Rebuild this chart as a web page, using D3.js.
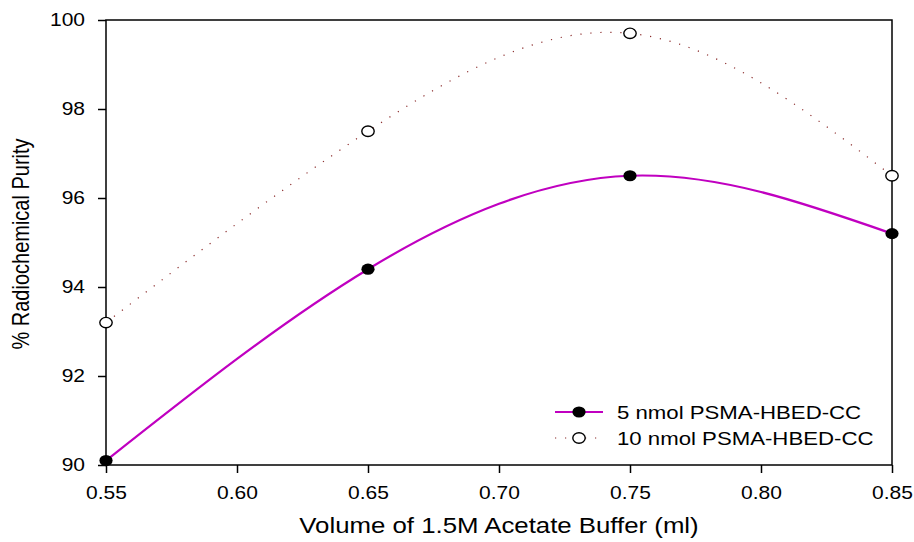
<!DOCTYPE html>
<html>
<head>
<meta charset="utf-8">
<script src="https://cdn.jsdelivr.net/npm/d3@7"></script>
<style>
  body { margin: 0; background: #fff; }
  text { font-family: 'Liberation Sans', Arial, sans-serif; fill: #000; }
</style>
</head>
<body>
<svg class="chart" width="914" height="542"></svg>
<script>
// data
const volumes = [0.55, 0.65, 0.75, 0.85];
const purity5 = [90.1, 94.4, 96.5, 95.2];
const purity10 = [93.2, 97.5, 99.7, 96.5];
const xTicks = [0.55, 0.60, 0.65, 0.70, 0.75, 0.80, 0.85];
const yTicks = [90, 92, 94, 96, 98, 100];
const seriesNames = ['5 nmol PSMA-HBED-CC', '10 nmol PSMA-HBED-CC'];

const svg = d3.select('svg.chart');
const plotL = 106, plotR = 892, plotT = 20, plotB = 465;
// the original text is a bit stretched sideways
const sx = 1.2;

const x = d3.scaleLinear().domain([0.55, 0.85]).range([plotL, plotR]);
const y = d3.scaleLinear().domain([90, 100]).range([plotB, plotT]);

// frame
svg.append('rect')
  .attr('x', plotL).attr('y', plotT)
  .attr('width', plotR - plotL).attr('height', plotB - plotT)
  .style('fill', 'none').style('stroke', '#000').style('stroke-width', 1.5);

// axes
const xAxis = svg.append('g')
  .attr('transform', `translate(0,${plotB})`)
  .call(d3.axisBottom(x).tickValues(xTicks).tickFormat(d3.format('.2f')).tickSize(8).tickPadding(14));
const yAxis = svg.append('g')
  .attr('transform', `translate(${plotL},0)`)
  .call(d3.axisLeft(y).tickValues(yTicks).tickFormat(d3.format('d')).tickSize(8).tickPadding(9.5));

[xAxis, yAxis].forEach(a => {
  a.select('.domain').remove();
  a.selectAll('line').style('stroke', '#000').style('stroke-width', 1.5);
  a.selectAll('text')
    .attr('transform', `scale(${sx},1)`)
    .style('font-family', "'Liberation Sans', Arial, sans-serif")
    .style('font-size', '17.5px').style('fill', '#000');
});

// axis titles
svg.append('text')
  .attr('transform', `translate(${(plotL + plotR) / 2},533) scale(${sx},1)`)
  .attr('text-anchor', 'middle')
  .style('font-size', '21.5px')
  .text('Volume of 1.5M Acetate Buffer (ml)');

svg.append('text')
  .attr('transform', `translate(29,244) scale(${sx},1) rotate(-90)`)
  .attr('text-anchor', 'middle')
  .style('font-size', '20px')
  .text('% Radiochemical Purity');

const line = d3.line().curve(d3.curveNatural)
  .x((d, i) => x(volumes[i]))
  .y(d => y(d));

// 10 nmol dotted curve
svg.append('path')
  .attr('d', line(purity10))
  .style('fill', 'none')
  .style('stroke', '#8a2a2a')
  .style('stroke-width', 1.2)
  .style('stroke-dasharray', '1.2,8.8');

// 5 nmol solid curve
svg.append('path')
  .attr('d', line(purity5))
  .style('fill', 'none')
  .style('stroke', '#c000c0')
  .style('stroke-width', 2.2);

const rx = 6.6, ry = 5.6;

svg.selectAll('ellipse.p5')
  .data(purity5).enter().append('ellipse')
  .attr('class', 'p5')
  .attr('cx', (d, i) => x(volumes[i])).attr('cy', d => y(d))
  .attr('rx', rx).attr('ry', ry)
  .style('fill', '#000');

svg.selectAll('ellipse.p10')
  .data(purity10).enter().append('ellipse')
  .attr('class', 'p10')
  .attr('cx', (d, i) => x(volumes[i])).attr('cy', d => y(d))
  .attr('rx', rx - 0.4).attr('ry', ry - 0.4)
  .style('fill', '#fff').style('stroke', '#000').style('stroke-width', 1.4);

// legend
const leg = svg.append('g').attr('transform', 'translate(555,412)');
leg.append('line').attr('x1', 0).attr('x2', 48).attr('y1', 0).attr('y2', 0)
  .style('stroke', '#c000c0').style('stroke-width', 2.2);
leg.append('ellipse').attr('cx', 24).attr('cy', 0).attr('rx', rx).attr('ry', ry).style('fill', '#000');
leg.append('line').attr('x1', 0).attr('x2', 48).attr('y1', 26).attr('y2', 26)
  .style('stroke', '#8a2a2a').style('stroke-width', 1.2).style('stroke-dasharray', '1.2,8.8');
leg.append('ellipse').attr('cx', 24).attr('cy', 26).attr('rx', rx - 0.4).attr('ry', ry - 0.4)
  .style('fill', '#fff').style('stroke', '#000').style('stroke-width', 1.4);
leg.selectAll('text.lab')
  .data(seriesNames).enter().append('text')
  .attr('class', 'lab')
  .attr('transform', (d, i) => `translate(62,${i * 26 + 6.5}) scale(${sx},1)`)
  .style('font-size', '18.5px')
  .text(d => d);
</script>
</body>
</html>
